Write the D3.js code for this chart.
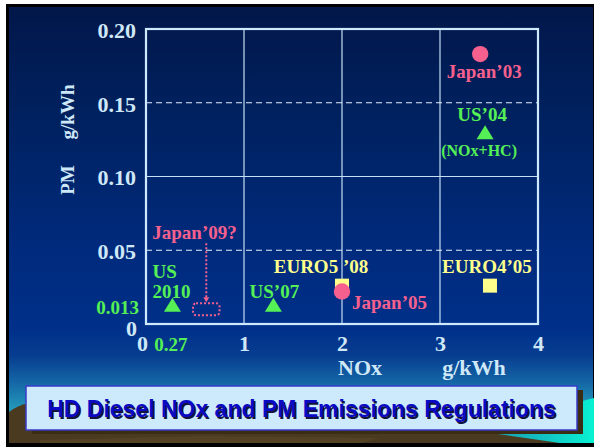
<!DOCTYPE html>
<html>
<head>
<meta charset="utf-8">
<script src="https://cdn.jsdelivr.net/npm/d3@7"></script>
<style>
  html, body { margin: 0; padding: 0; background: #ffffff; }
  svg { display: block; }
</style>
</head>
<body>
<svg id="chart" width="594" height="447"></svg>
<script>
// ---- data ----
const noxTicks = [0, 1, 2, 3, 4];
const pmTicks = [0.05, 0.10, 0.15, 0.20];
const noxGrid = [1, 2, 3];
const pmSolidGrid = [0.10];
const pmDashedGrid = [0.05, 0.15];
const noxSpecialTick = [0.27];
const pmSpecialTick = [0.013];

const japanNames = ["Japan’03", "Japan’05"];
const japanNOx = [3.41, 2.0];
const japanPM = [0.183, 0.022];

const usNames = ["US’04", "US’07", "US 2010"];
const usNOx = [3.46, 1.3, 0.27];
const usPM = [0.130, 0.013, 0.013];

const euroNames = ["EURO4’05", "EURO5 ’08"];
const euroNOx = [3.51, 2.0];
const euroPM = [0.026, 0.026];

const japan09Name = "Japan’09?";
const japan09NOx = [0.48, 0.75];
const japan09PM = [0.006, 0.014];

const titleText = "HD Diesel NOx and PM Emissions Regulations";

// ---- label placement (relative to each mark) ----
const labelLayout = {
  "Japan’03": [{ text: "Japan’03", dx: 4, dy: 24, anchor: "middle" }],
  "Japan’05": [{ text: "Japan’05", dx: 10, dy: 17, anchor: "start" }],
  "US’04": [
    { text: "US’04", dx: -3, dy: -11, anchor: "middle" },
    { text: "(NOx+HC)", dx: -6, dy: 24, anchor: "middle", size: 16 }
  ],
  "US’07": [{ text: "US’07", dx: 1, dy: -7, anchor: "middle" }],
  "US 2010": [
    { text: "US", dx: -20, dy: -27, anchor: "start" },
    { text: "2010", dx: -20, dy: -7, anchor: "start" }
  ],
  "EURO4’05": [{ text: "EURO4’05", dx: -3, dy: -13, anchor: "middle" }],
  "EURO5 ’08": [{ text: "EURO5 ’08", dx: -21, dy: -13, anchor: "middle" }]
};

// ---- colours & fonts ----
const serif = "'Liberation Serif', 'Times New Roman', serif";
const sans = "'Liberation Sans', Arial, sans-serif";
const axisBlue = "#cfe8f8";
const gridBlue = "#c4e0f4";
const pink = "#f5608e";
const green = "#55f055";
const yellow = "#ffff8c";

const svg = d3.select("#chart");
const W = 594, H = 447;

// ---- backdrop ----
const defs = svg.append("defs");
const bg = defs.append("linearGradient").attr("id", "bg")
  .attr("x1", 0).attr("y1", 0).attr("x2", 0).attr("y2", 1);
[[0, "#02174a"], [0.25, "#00215f"], [0.55, "#002a7c"], [0.74, "#00308a"],
 [0.80, "#073d90"], [0.86, "#1466a6"], [0.92, "#2397b9"], [1, "#2db2c4"]]
  .forEach(([o, c]) => bg.append("stop").attr("offset", o).attr("stop-color", c));

const sea = defs.append("linearGradient").attr("id", "sea")
  .attr("x1", 0).attr("y1", 0).attr("x2", 1).attr("y2", 0);
[[0, "#1a8fa6"], [0.6, "#12c2c4"], [1, "#08f2d2"]]
  .forEach(([o, c]) => sea.append("stop").attr("offset", o).attr("stop-color", c));

svg.append("rect").attr("x", 6).attr("y", 4).attr("width", W - 6).attr("height", H - 4).attr("fill", "#000");
svg.append("rect").attr("x", 9).attr("y", 7).attr("width", W - 10).attr("height", H - 11).attr("fill", "url(#bg)");

// ground strip along the bottom
svg.append("path")
  .attr("d", "M9,412 Q18,405 30,403 L470,403 L560,443 L9,443 Z")
  .attr("fill", "#4a3a1f");
svg.append("path")
  .attr("d", "M470,430 L594,398 L594,443 L560,443 Z")
  .attr("fill", "url(#sea)");
svg.append("path")
  .attr("d", "M40,440 L200,436 L380,438 L360,443 L40,443 Z")
  .attr("fill", "#5a4828").attr("opacity", 0.6);

// ---- scales ----
const x = d3.scaleLinear().domain([0, 4]).range([146, 538]);
const y = d3.scaleLinear().domain([0, 0.20]).range([324, 29]);

const plot = svg.append("g");

// grid lines
plot.selectAll(".vgrid").data(noxGrid).join("line")
  .attr("x1", d => x(d)).attr("x2", d => x(d))
  .attr("y1", y(0.20)).attr("y2", y(0))
  .attr("stroke", gridBlue).attr("stroke-width", 1.2);
plot.selectAll(".hgrid").data(pmSolidGrid).join("line")
  .attr("x1", x(0)).attr("x2", x(4))
  .attr("y1", d => y(d)).attr("y2", d => y(d))
  .attr("stroke", gridBlue).attr("stroke-width", 1.2);
plot.selectAll(".hdash").data(pmDashedGrid).join("line")
  .attr("x1", x(0)).attr("x2", x(4))
  .attr("y1", d => y(d)).attr("y2", d => y(d))
  .attr("stroke", "#e4f0fa").attr("stroke-width", 1.2)
  .attr("stroke-dasharray", "6,4");

// plot frame
plot.append("rect")
  .attr("x", x(0)).attr("y", y(0.20))
  .attr("width", x(4) - x(0)).attr("height", y(0) - y(0.20))
  .attr("fill", "none").attr("stroke", "#cde9fb").attr("stroke-width", 2.2);

// ---- axes (tick labels only, drawn by d3 axis generators) ----
function styleAxis(g, color, size) {
  g.select(".domain").remove();
  g.selectAll(".tick line").remove();
  g.selectAll(".tick text")
    .attr("fill", color)
    .style("font-family", serif)
    .style("font-weight", "bold")
    .style("font-size", size + "px");
}

const fmtPM = d3.format(".2f");
svg.append("g")
  .attr("transform", `translate(${x(0) - 10},0)`)
  .call(d3.axisLeft(y).tickValues(pmTicks).tickFormat(fmtPM).tickSize(0).tickPadding(0))
  .call(g => styleAxis(g, axisBlue, 22))
  .selectAll(".tick text").attr("dy", "0.38em");

svg.append("g")
  .attr("transform", `translate(${x(0) - 7},0)`)
  .call(d3.axisLeft(y).tickValues(pmSpecialTick).tickFormat(d3.format(".3f")).tickSize(0).tickPadding(0))
  .call(g => styleAxis(g, green, 19))
  .selectAll(".tick text").attr("dy", "0.45em");

svg.append("g")
  .attr("transform", `translate(${x(0) - 9},0)`)
  .call(d3.axisLeft(y).tickValues([0]).tickFormat(d3.format("d")).tickSize(0).tickPadding(0))
  .call(g => styleAxis(g, axisBlue, 22))
  .selectAll(".tick text").attr("dy", "0.52em");

const xAxis = svg.append("g")
  .attr("transform", `translate(0,${y(0)})`)
  .call(d3.axisBottom(x).tickValues(noxTicks).tickFormat(d3.format("d")).tickSize(0).tickPadding(0))
  .call(g => styleAxis(g, axisBlue, 22));
xAxis.selectAll(".tick text").attr("dy", "27px").attr("y", 0)
  .attr("dx", d => d === 0 ? -4 : 0);

svg.append("g")
  .attr("transform", `translate(0,${y(0)})`)
  .call(d3.axisBottom(x).tickValues(noxSpecialTick).tickFormat(d3.format(".2f")).tickSize(0).tickPadding(0))
  .call(g => styleAxis(g, green, 19))
  .selectAll(".tick text").attr("dy", "27px").attr("y", 0).attr("dx", -2);

// axis titles
svg.append("text").attr("x", 360).attr("y", 375).attr("text-anchor", "middle")
  .attr("fill", axisBlue).style("font-family", serif).style("font-weight", "bold")
  .style("font-size", "22px").text("NOx");
svg.append("text").attr("x", 474).attr("y", 375).attr("text-anchor", "middle")
  .attr("fill", axisBlue).style("font-family", serif).style("font-weight", "bold")
  .style("font-size", "22px").text("g/kWh");

const yTitle = svg.append("g").attr("transform", "translate(74,0) rotate(-90)");
yTitle.append("text").attr("x", -180).attr("y", 0).attr("text-anchor", "middle")
  .attr("fill", axisBlue).style("font-family", serif).style("font-weight", "bold")
  .style("font-size", "19px").text("PM");
yTitle.append("text").attr("x", -112).attr("y", 0).attr("text-anchor", "middle")
  .attr("fill", axisBlue).style("font-family", serif).style("font-weight", "bold")
  .style("font-size", "19px").text("g/kWh");

// ---- marks ----
const marks = svg.append("g");

function drawLabels(name, px, py, color) {
  (labelLayout[name] || []).forEach(l => {
    marks.append("text")
      .attr("x", px + l.dx).attr("y", py + l.dy)
      .attr("text-anchor", l.anchor)
      .attr("fill", color)
      .style("font-family", serif).style("font-weight", "bold")
      .style("font-size", (l.size || 19) + "px")
      .text(l.text);
  });
}

// EURO squares
euroNames.forEach((n, i) => {
  const px = x(euroNOx[i]), py = y(euroPM[i]);
  marks.append("rect").attr("x", px - 7).attr("y", py - 7)
    .attr("width", 14).attr("height", 14).attr("fill", yellow);
  drawLabels(n, px, py, yellow);
});

// Japan circles
japanNames.forEach((n, i) => {
  const px = x(japanNOx[i]), py = y(japanPM[i]);
  marks.append("circle").attr("cx", px).attr("cy", py).attr("r", 8.2).attr("fill", pink);
  drawLabels(n, px, py, pink);
});

// US triangles
const tri = "M0,-7 L8.5,7 L-8.5,7 Z";
usNames.forEach((n, i) => {
  const px = x(usNOx[i]), py = y(usPM[i]);
  marks.append("path").attr("d", tri)
    .attr("transform", `translate(${px},${py})`).attr("fill", green);
  drawLabels(n, px, py, green);
});

// Japan'09 proposal: dotted range box with pointer
const bx0 = x(japan09NOx[0]), bx1 = x(japan09NOx[1]);
const by0 = y(japan09PM[1]), by1 = y(japan09PM[0]);
const bcx = (bx0 + bx1) / 2;
marks.append("rect")
  .attr("x", bx0).attr("y", by0).attr("width", bx1 - bx0).attr("height", by1 - by0)
  .attr("rx", 3).attr("fill", "none").attr("stroke", pink)
  .attr("stroke-width", 2).attr("stroke-dasharray", "2,2");
marks.append("line")
  .attr("x1", bcx).attr("x2", bcx).attr("y1", by0 - 60).attr("y2", by0 - 4)
  .attr("stroke", pink).attr("stroke-width", 2).attr("stroke-dasharray", "2,2");
marks.append("path")
  .attr("d", `M${bcx - 3},${by0 - 6} L${bcx + 3},${by0 - 6} L${bcx},${by0 - 1} Z`)
  .attr("fill", pink);
marks.append("text")
  .attr("x", bcx - 54).attr("y", by0 - 64)
  .attr("fill", pink).style("font-family", serif).style("font-weight", "bold")
  .style("font-size", "19px").text(japan09Name);

// ---- title box ----
const tb = { x: 26, y: 386, w: 551, h: 44 };
svg.append("rect").attr("x", tb.x + 6).attr("y", tb.y + 4).attr("width", tb.w).attr("height", tb.h)
  .attr("fill", "#3b2c14");
svg.append("rect").attr("x", tb.x).attr("y", tb.y).attr("width", tb.w).attr("height", tb.h)
  .attr("fill", "#cde9fc").attr("stroke", "#3a3ac8").attr("stroke-width", 1.5);
svg.append("text").attr("x", tb.x + tb.w / 2 + 1.5).attr("y", 418.5)
  .attr("text-anchor", "middle").attr("fill", "#14143a")
  .style("font-family", sans).style("font-weight", "bold").style("font-size", "23px")
  .text(titleText);
svg.append("text").attr("x", tb.x + tb.w / 2).attr("y", 417)
  .attr("text-anchor", "middle").attr("fill", "#0a0ac4")
  .style("font-family", sans).style("font-weight", "bold").style("font-size", "23px")
  .text(titleText);
</script>
</body>
</html>
